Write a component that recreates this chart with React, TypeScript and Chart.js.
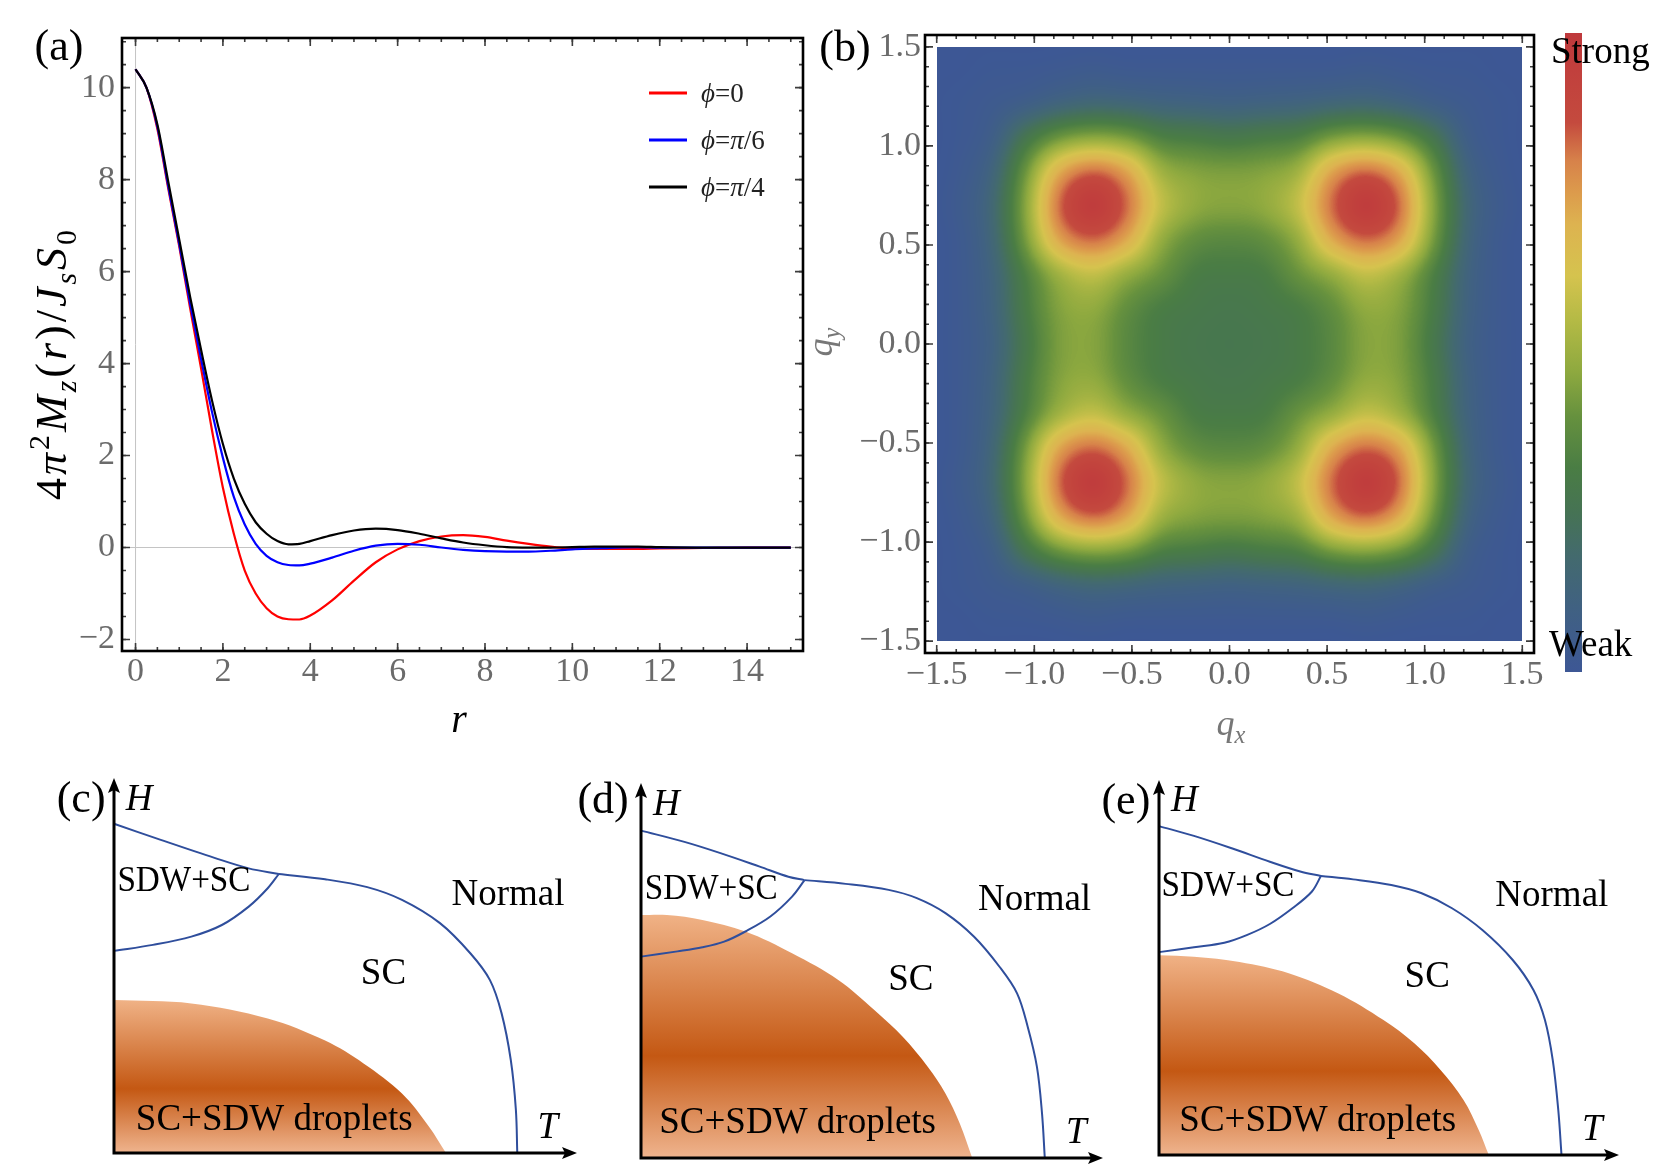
import React, { useEffect, useRef } from 'react';
import { Chart, registerables } from 'chart.js';

Chart.register(...registerables);

const SERIF = '"Liberation Serif", "Times New Roman", Times, serif';
const TICK_GRAY = '#6b6b6b';
const FIG_W = 1675;
const FIG_H = 1175;

// ---------------- Panel (a): 4π²M_z(r)/J_sS_0 against r ----------------
const R_VALUES = [0, 0.25, 0.5, 0.75, 1, 1.25, 1.5, 1.75, 2, 2.25, 2.5, 2.75, 3, 3.25, 3.5, 3.75, 4, 4.5, 5, 5.5, 6, 6.5, 7, 7.5, 8, 8.5, 9, 9.5, 10, 10.5, 11, 11.5, 12, 13, 14, 15];
const M_PHI_0 = [10.4, 10.0, 9.1, 7.8, 6.55, 5.2, 3.9, 2.55, 1.3, 0.3, -0.5, -1.0, -1.32, -1.5, -1.56, -1.565, -1.48, -1.15, -0.72, -0.32, -0.04, 0.14, 0.24, 0.27, 0.23, 0.15, 0.08, 0.02, -0.02, -0.03, -0.03, -0.03, -0.02, -0.01, 0, 0];
const M_PHI_PI6 = [10.4, 10.0, 9.15, 7.85, 6.6, 5.3, 4.1, 2.95, 1.95, 1.1, 0.5, 0.08, -0.18, -0.32, -0.38, -0.39, -0.35, -0.22, -0.07, 0.04, 0.08, 0.06, 0.0, -0.05, -0.08, -0.09, -0.09, -0.07, -0.04, -0.02, 0.0, 0.01, 0.0, 0, 0, 0];
const M_PHI_PI4 = [10.4, 10.0, 9.2, 7.95, 6.7, 5.45, 4.3, 3.2, 2.25, 1.5, 0.95, 0.55, 0.3, 0.14, 0.07, 0.08, 0.14, 0.27, 0.37, 0.41, 0.38, 0.3, 0.2, 0.11, 0.05, 0.01, 0.0, 0.0, 0.01, 0.02, 0.02, 0.02, 0.01, 0, 0, 0];
const SERIES_VALUES = [M_PHI_0, M_PHI_PI6, M_PHI_PI4];
const SERIES_LABELS = ['ϕ=0', 'ϕ=π/6', 'ϕ=π/4'];
const SERIES_COLORS = ['#ff0000', '#0000ff', '#000000'];
const A_X_TICKS = [0, 2, 4, 6, 8, 10, 12, 14];
const A_Y_TICKS = [-2, 0, 2, 4, 6, 8, 10];

// ---------------- Panel (b): intensity map over (q_x, q_y) ----------------
const Q_TICKS = [-1.5, -1.0, -0.5, 0, 0.5, 1.0, 1.5];
const HEAT_STEP = 0.175;
const HEAT_NODES = [-1.575, -1.4, -1.225, -1.05, -0.875, -0.7, -0.525, -0.35, -0.175, 0, 0.175, 0.35, 0.525, 0.7, 0.875, 1.05, 1.225, 1.4, 1.575];
// rows run from q_y = +1.575 (top) down to q_y = -1.575; columns from q_x = -1.575 to +1.575 (percent of maximum)
const HEAT_ROWS = [
  [0, 0, 0, 0, 0, 0, 0, 0, 0, 0, 0, 0, 0, 0, 0, 0, 0, 0, 0],
  [0, 0, 1, 1, 2, 3, 2, 2, 2, 2, 2, 2, 2, 3, 2, 1, 1, 0, 0],
  [0, 1, 3, 6, 11, 14, 13, 11, 10, 9, 10, 11, 13, 14, 11, 6, 3, 1, 0],
  [0, 1, 6, 26, 40, 45, 42, 32, 30, 28, 30, 32, 42, 45, 40, 26, 6, 1, 0],
  [0, 2, 11, 40, 72, 84, 74, 50, 45, 44, 45, 50, 74, 84, 72, 40, 11, 2, 0],
  [0, 3, 14, 45, 84, 100, 84, 58, 48, 46, 48, 58, 84, 100, 84, 45, 14, 3, 0],
  [0, 2, 13, 42, 74, 84, 73, 48, 38, 36, 38, 48, 73, 84, 74, 42, 13, 2, 0],
  [0, 2, 11, 32, 50, 58, 48, 40, 31, 30, 31, 40, 48, 58, 50, 32, 11, 2, 0],
  [0, 2, 10, 30, 45, 48, 38, 31, 29, 28, 29, 31, 38, 48, 45, 30, 10, 2, 0],
  [0, 2, 9, 28, 44, 46, 36, 30, 28, 27, 28, 30, 36, 46, 44, 28, 9, 2, 0],
  [0, 2, 10, 30, 45, 48, 38, 31, 29, 28, 29, 31, 38, 48, 45, 30, 10, 2, 0],
  [0, 2, 11, 32, 50, 58, 48, 40, 31, 30, 31, 40, 48, 58, 50, 32, 11, 2, 0],
  [0, 2, 13, 42, 74, 84, 73, 48, 38, 36, 38, 48, 73, 84, 74, 42, 13, 2, 0],
  [0, 3, 14, 45, 84, 100, 84, 58, 48, 46, 48, 58, 84, 100, 84, 45, 14, 3, 0],
  [0, 2, 11, 40, 72, 84, 74, 50, 45, 44, 45, 50, 74, 84, 72, 40, 11, 2, 0],
  [0, 1, 6, 26, 40, 45, 42, 32, 30, 28, 30, 32, 42, 45, 40, 26, 6, 1, 0],
  [0, 1, 3, 6, 11, 14, 13, 11, 10, 9, 10, 11, 13, 14, 11, 6, 3, 1, 0],
  [0, 0, 1, 1, 2, 3, 2, 2, 2, 2, 2, 2, 2, 3, 2, 1, 1, 0, 0],
  [0, 0, 0, 0, 0, 0, 0, 0, 0, 0, 0, 0, 0, 0, 0, 0, 0, 0, 0],
];
const HEAT_COLOR_STOPS: [number, string][] = [
  [0.0, '#3D5795'], [0.1, '#406182'], [0.18, '#436A6E'], [0.25, '#467354'],
  [0.32, '#4A7D44'], [0.4, '#66913E'], [0.47, '#8EA93F'], [0.55, '#B4BA45'],
  [0.62, '#D5C34E'], [0.7, '#DDB350'], [0.75, '#DC9B4C'], [0.8, '#D7824A'],
  [0.86, '#C44A3E'], [1.0, '#BF393C'],
];

// ---------------- Panels (c)-(e): schematic H-T phase diagrams ----------------
// points are [T, H] with both axes running from 0 to the arrow tip at 1
const C_SDW_TOP: [number, number][] = [[0, 0.878], [0.101, 0.835], [0.217, 0.787], [0.291, 0.759], [0.356, 0.744]];
const C_SC_EDGE: [number, number][] = [[0.356, 0.744], [0.456, 0.73], [0.547, 0.709], [0.622, 0.675], [0.704, 0.613], [0.77, 0.532], [0.812, 0.461], [0.837, 0.373], [0.857, 0.248], [0.868, 0.115], [0.871, 0]];
const C_SDW_BOTTOM: [number, number][] = [[0, 0.539], [0.084, 0.555], [0.167, 0.577], [0.233, 0.608], [0.291, 0.657], [0.332, 0.706], [0.356, 0.744]];
const C_DROPLETS: [number, number][] = [[0, 0.408], [0.167, 0.399], [0.332, 0.359], [0.456, 0.3], [0.539, 0.239], [0.622, 0.159], [0.68, 0.071], [0.717, 0]];

const D_SDW_TOP: [number, number][] = [[0, 0.873], [0.094, 0.843], [0.172, 0.813], [0.257, 0.777], [0.319, 0.75], [0.354, 0.741]];
const D_SC_EDGE: [number, number][] = [[0.354, 0.741], [0.443, 0.731], [0.536, 0.715], [0.597, 0.693], [0.659, 0.653], [0.721, 0.59], [0.776, 0.51], [0.814, 0.439], [0.837, 0.35], [0.857, 0.243], [0.868, 0.119], [0.874, 0]];
const D_SDW_BOTTOM: [number, number][] = [[0, 0.537], [0.079, 0.551], [0.133, 0.562], [0.18, 0.577], [0.226, 0.604], [0.28, 0.644], [0.327, 0.697], [0.354, 0.741]];
const D_DROPLETS: [number, number][] = [[0, 0.648], [0.056, 0.648], [0.133, 0.635], [0.226, 0.604], [0.327, 0.546], [0.427, 0.475], [0.505, 0.395], [0.567, 0.323], [0.621, 0.243], [0.659, 0.172], [0.69, 0.092], [0.717, 0]];

const E_SDW_TOP: [number, number][] = [[0, 0.877], [0.076, 0.851], [0.158, 0.818], [0.241, 0.782], [0.307, 0.756], [0.352, 0.744]];
const E_SC_EDGE: [number, number][] = [[0.352, 0.744], [0.422, 0.735], [0.505, 0.72], [0.571, 0.698], [0.637, 0.658], [0.703, 0.6], [0.769, 0.52], [0.814, 0.44], [0.839, 0.36], [0.856, 0.253], [0.868, 0.12], [0.875, 0]];
const E_SDW_BOTTOM: [number, number][] = [[0, 0.541], [0.076, 0.554], [0.142, 0.566], [0.192, 0.587], [0.241, 0.616], [0.29, 0.658], [0.332, 0.702], [0.352, 0.744]];
const E_DROPLETS: [number, number][] = [[0, 0.533], [0.076, 0.529], [0.175, 0.515], [0.282, 0.485], [0.39, 0.431], [0.488, 0.36], [0.555, 0.298], [0.612, 0.227], [0.662, 0.147], [0.695, 0.067], [0.717, 0]];

type PhaseLabel = { text: string; t: number; h: number; italic?: boolean; size?: number; maxWidth?: number };
const C_LABELS: PhaseLabel[] = [
  { text: 'SDW+SC', t: 0.151, h: 0.723, size: 36, maxWidth: 133 },
  { text: 'Normal', t: 0.851, h: 0.688 },
  { text: 'SC', t: 0.582, h: 0.477 },
  { text: 'SC+SDW droplets', t: 0.346, h: 0.088 },
  { text: 'T', t: 0.937, h: 0.067, italic: true },
  { text: 'H', t: 0.054, h: 0.941, italic: true },
  { text: '(c)', t: -0.071, h: 0.941, size: 44 },
];
const D_LABELS: PhaseLabel[] = [
  { text: 'SDW+SC', t: 0.152, h: 0.715, size: 36, maxWidth: 133 },
  { text: 'Normal', t: 0.852, h: 0.688 },
  { text: 'SC', t: 0.584, h: 0.473 },
  { text: 'SC+SDW droplets', t: 0.339, h: 0.093 },
  { text: 'T', t: 0.942, h: 0.067, italic: true },
  { text: 'H', t: 0.055, h: 0.941, italic: true },
  { text: '(d)', t: -0.082, h: 0.95, size: 44 },
];
const E_LABELS: PhaseLabel[] = [
  { text: 'SDW+SC', t: 0.15, h: 0.715, size: 36, maxWidth: 133 },
  { text: 'Normal', t: 0.854, h: 0.689 },
  { text: 'SC', t: 0.583, h: 0.475 },
  { text: 'SC+SDW droplets', t: 0.345, h: 0.089 },
  { text: 'T', t: 0.942, h: 0.067, italic: true },
  { text: 'H', t: 0.055, h: 0.942, italic: true },
  { text: '(e)', t: -0.072, h: 0.939, size: 44 },
];

const PHASE_LINE = '#2F4E9C';

// ---------------- text helpers ----------------
type Seg = { t: string; italic?: boolean; sub?: boolean; sup?: boolean };

const Y_TITLE_A: Seg[] = [
  { t: '4' }, { t: 'π', italic: true }, { t: '2', sup: true }, { t: 'M', italic: true },
  { t: 'z', italic: true, sub: true }, { t: '(' }, { t: 'r', italic: true }, { t: ')' },
  { t: '/' }, { t: 'J', italic: true }, { t: 's', italic: true, sub: true },
  { t: 'S', italic: true }, { t: '0', sub: true },
];
const QX_TITLE: Seg[] = [{ t: 'q', italic: true }, { t: 'x', italic: true, sub: true }];
const QY_TITLE: Seg[] = [{ t: 'q', italic: true }, { t: 'y', italic: true, sub: true }];

function segFont(seg: Seg, size: number) {
  const s = seg.sub || seg.sup ? size * 0.68 : size;
  return `${seg.italic ? 'italic ' : ''}${s}px ${SERIF}`;
}

function richWidth(ctx: CanvasRenderingContext2D, segs: Seg[], size: number, gap: number) {
  let w = 0;
  segs.forEach((s, i) => {
    ctx.font = segFont(s, size);
    w += ctx.measureText(s.t).width + (i ? gap : 0);
  });
  return w;
}

function drawRich(ctx: CanvasRenderingContext2D, segs: Seg[], x: number, y: number, size: number, gap: number) {
  let cx = x;
  segs.forEach((s, i) => {
    if (i) cx += gap;
    ctx.font = segFont(s, size);
    const dy = s.sub ? size * 0.22 : s.sup ? -size * 0.38 : 0;
    ctx.fillText(s.t, cx, y + dy);
    cx += ctx.measureText(s.t).width;
  });
}

function labelSegs(label: string): Seg[] {
  return label.split('').map((ch) => ({ t: ch, italic: /[\u0370-\u03ff]/.test(ch) }));
}

const minusFmt = (v: number, digits: number) => (v < 0 ? '\u2212' : '') + Math.abs(v).toFixed(digits);

// ---------------- colour map ----------------
function hexRgb(h: string) {
  return [parseInt(h.slice(1, 3), 16), parseInt(h.slice(3, 5), 16), parseInt(h.slice(5, 7), 16)];
}
function buildLut() {
  const lut = new Uint8Array(256 * 3);
  for (let g = 0; g < 256; g++) {
    const v = g / 255;
    let k = 0;
    while (k < HEAT_COLOR_STOPS.length - 2 && v > HEAT_COLOR_STOPS[k + 1][0]) k++;
    const [v0, c0] = HEAT_COLOR_STOPS[k];
    const [v1, c1] = HEAT_COLOR_STOPS[k + 1];
    const f = Math.min(1, Math.max(0, (v - v0) / (v1 - v0)));
    const a = hexRgb(c0), b = hexRgb(c1);
    for (let j = 0; j < 3; j++) lut[g * 3 + j] = Math.round(a[j] + (b[j] - a[j]) * f);
  }
  return lut;
}

// ---------------- shared plugins ----------------
function frameTicksPlugin(xMajor: number[], yMajor: number[], xMinorStep: number, yMinorStep: number) {
  return {
    id: 'frameTicks',
    afterDraw(chart: any) {
      const { ctx, chartArea: a, scales } = chart;
      const xs = scales.x, ys = scales.y;
      ctx.save();
      ctx.strokeStyle = '#3c3c3c';
      ctx.lineWidth = 1.6;
      const tickX = (v: number, len: number) => {
        const p = xs.getPixelForValue(v);
        if (p < a.left + 1 || p > a.right - 1) return;
        ctx.beginPath();
        ctx.moveTo(p, a.bottom); ctx.lineTo(p, a.bottom - len);
        ctx.moveTo(p, a.top); ctx.lineTo(p, a.top + len);
        ctx.stroke();
      };
      const tickY = (v: number, len: number) => {
        const p = ys.getPixelForValue(v);
        if (p < a.top + 1 || p > a.bottom - 1) return;
        ctx.beginPath();
        ctx.moveTo(a.left, p); ctx.lineTo(a.left + len, p);
        ctx.moveTo(a.right, p); ctx.lineTo(a.right - len, p);
        ctx.stroke();
      };
      for (let v = Math.ceil(xs.min / xMinorStep) * xMinorStep; v <= xs.max; v += xMinorStep) tickX(v, 4);
      for (let v = Math.ceil(ys.min / yMinorStep) * yMinorStep; v <= ys.max; v += yMinorStep) tickY(v, 4);
      xMajor.forEach((v) => tickX(v, 8));
      yMajor.forEach((v) => tickY(v, 8));
      ctx.strokeStyle = '#000';
      ctx.lineWidth = 2.6;
      ctx.strokeRect(a.left, a.top, a.right - a.left, a.bottom - a.top);
      ctx.restore();
    },
  };
}

const axisFont = { family: SERIF, size: 34 };

// ---------------- chart builders ----------------
function buildPanelA(canvas: HTMLCanvasElement) {
  const zeroLines = {
    id: 'zeroLines',
    beforeDatasetsDraw(chart: any) {
      const { ctx, chartArea: a, scales } = chart;
      const px = scales.x.getPixelForValue(0);
      const py = scales.y.getPixelForValue(0);
      ctx.save();
      ctx.strokeStyle = '#c4c4c4';
      ctx.lineWidth = 1;
      ctx.beginPath();
      ctx.moveTo(px, a.top); ctx.lineTo(px, a.bottom);
      ctx.moveTo(a.left, py); ctx.lineTo(a.right, py);
      ctx.stroke();
      ctx.restore();
    },
  };
  const legendAndTitles = {
    id: 'legendTitles',
    afterDraw(chart: any) {
      const { ctx, chartArea: a } = chart;
      ctx.save();
      // legend inside the frame
      chart.data.datasets.forEach((ds: any, i: number) => {
        const y = a.top + 55 + i * 47;
        ctx.strokeStyle = ds.borderColor;
        ctx.lineWidth = 3;
        ctx.beginPath();
        ctx.moveTo(a.right - 154, y); ctx.lineTo(a.right - 116, y);
        ctx.stroke();
        ctx.fillStyle = '#222';
        ctx.textAlign = 'left';
        ctx.textBaseline = 'alphabetic';
        drawRich(ctx, labelSegs(ds.label), a.right - 102, y + 9, 27, 0);
      });
      // rotated y title
      ctx.fillStyle = '#000';
      const size = 44;
      const target = 270;
      const natural = richWidth(ctx, Y_TITLE_A, size, 0);
      const gap = Math.max(0, (target - natural) / (Y_TITLE_A.length - 1));
      const total = richWidth(ctx, Y_TITLE_A, size, gap);
      ctx.save();
      ctx.translate(66, 365);
      ctx.rotate(-Math.PI / 2);
      ctx.textAlign = 'left';
      ctx.textBaseline = 'alphabetic';
      drawRich(ctx, Y_TITLE_A, -total / 2, 0, size, gap);
      ctx.restore();
      // x title and panel tag
      ctx.textAlign = 'center';
      ctx.textBaseline = 'middle';
      ctx.font = `italic 40px ${SERIF}`;
      ctx.fillText('r', 459, 721);
      ctx.font = `44px ${SERIF}`;
      ctx.fillText('(a)', 59, 48);
      ctx.restore();
    },
  };
  return new Chart(canvas, {
    type: 'line',
    data: {
      datasets: SERIES_VALUES.map((vals, i) => ({
        label: SERIES_LABELS[i],
        data: R_VALUES.map((r, k) => ({ x: r, y: vals[k] })),
        borderColor: SERIES_COLORS[i],
        borderWidth: 2.2,
        pointRadius: 0,
        fill: false,
        cubicInterpolationMode: 'monotone',
        order: 3 - i,
      })),
    },
    options: {
      animation: false,
      responsive: false,
      devicePixelRatio: 1,
      layout: { padding: { left: 0, right: 77, top: 38, bottom: 0 } },
      plugins: { legend: { display: false }, tooltip: { enabled: false } },
      scales: {
        x: {
          type: 'linear',
          min: -0.31,
          max: 15.28,
          grid: { display: false, drawTicks: false },
          border: { display: false },
          afterBuildTicks: (s: any) => { s.ticks = A_X_TICKS.map((v) => ({ value: v })); },
          afterFit: (s: any) => { s.height = 109; },
          ticks: { autoSkip: false, maxRotation: 0, padding: 1, color: TICK_GRAY, font: axisFont, callback: (v: any) => minusFmt(Number(v), 0) },
        },
        y: {
          type: 'linear',
          min: -2.25,
          max: 11.08,
          grid: { display: false, drawTicks: false },
          border: { display: false },
          afterBuildTicks: (s: any) => { s.ticks = A_Y_TICKS.map((v) => ({ value: v })); },
          afterFit: (s: any) => { s.width = 122; },
          ticks: { autoSkip: false, padding: 7, color: TICK_GRAY, font: axisFont, callback: (v: any) => minusFmt(Number(v), 0) },
        },
      },
    } as any,
    plugins: [zeroLines, frameTicksPlugin(A_X_TICKS, A_Y_TICKS, 0.5, 0.5), legendAndTitles],
  });
}

function buildPanelB(canvas: HTMLCanvasElement) {
  const heatPlugin = {
    id: 'heatGrid',
    beforeDatasetsDraw(chart: any) {
      const { ctx, scales } = chart;
      const xs = scales.x, ys = scales.y;
      const n = HEAT_NODES.length;
      const half = HEAT_STEP / 2;
      const left = Math.round(xs.getPixelForValue(-1.5));
      const right = Math.round(xs.getPixelForValue(1.5));
      const top = Math.round(ys.getPixelForValue(1.5));
      const bottom = Math.round(ys.getPixelForValue(-1.5));
      const w = right - left, h = bottom - top;
      const src = document.createElement('canvas');
      src.width = n; src.height = n;
      const sctx = src.getContext('2d')!;
      const img = sctx.createImageData(n, n);
      HEAT_ROWS.forEach((row, r) => row.forEach((v, c) => {
        const g = Math.round((v / 100) * 255);
        const k = (r * n + c) * 4;
        img.data[k] = g; img.data[k + 1] = g; img.data[k + 2] = g; img.data[k + 3] = 255;
      }));
      sctx.putImageData(img, 0, 0);
      const dst = document.createElement('canvas');
      dst.width = w; dst.height = h;
      const dctx = dst.getContext('2d')!;
      dctx.imageSmoothingEnabled = true;
      (dctx as any).imageSmoothingQuality = 'high';
      const gx0 = xs.getPixelForValue(HEAT_NODES[0] - half) - left;
      const gx1 = xs.getPixelForValue(HEAT_NODES[n - 1] + half) - left;
      const gy0 = ys.getPixelForValue(HEAT_NODES[n - 1] + half) - top;
      const gy1 = ys.getPixelForValue(HEAT_NODES[0] - half) - top;
      dctx.drawImage(src, 0, 0, n, n, gx0, gy0, gx1 - gx0, gy1 - gy0);
      const out = dctx.getImageData(0, 0, w, h);
      const lut = buildLut();
      for (let k = 0; k < out.data.length; k += 4) {
        const g = out.data[k];
        out.data[k] = lut[g * 3];
        out.data[k + 1] = lut[g * 3 + 1];
        out.data[k + 2] = lut[g * 3 + 2];
        out.data[k + 3] = 255;
      }
      dctx.putImageData(out, 0, 0);
      ctx.drawImage(dst, left, top);
    },
  };
  const decorPlugin = {
    id: 'heatDecor',
    afterDraw(chart: any) {
      const { ctx, chartArea: a } = chart;
      ctx.save();
      // colour bar
      const bx = a.right + 31, bw = 17;
      const bt = a.top - 2, bb = a.bottom + 19;
      const grad = ctx.createLinearGradient(0, bb, 0, bt);
      HEAT_COLOR_STOPS.forEach(([v, c]) => grad.addColorStop(v, c));
      ctx.fillStyle = grad;
      ctx.fillRect(bx, bt, bw, bb - bt);
      ctx.fillStyle = '#000';
      ctx.font = `37px ${SERIF}`;
      ctx.textAlign = 'left';
      ctx.textBaseline = 'middle';
      ctx.fillText('Strong', a.right + 17, a.top + 18);
      ctx.fillText('Weak', a.right + 15, a.bottom - 7);
      // axis titles
      ctx.fillStyle = '#777';
      ctx.textBaseline = 'alphabetic';
      const qxw = richWidth(ctx, QX_TITLE, 36, 0);
      drawRich(ctx, QX_TITLE, 451 - qxw / 2, 735, 36, 0);
      const qyw = richWidth(ctx, QY_TITLE, 36, 0);
      ctx.save();
      ctx.translate(52, 342);
      ctx.rotate(-Math.PI / 2);
      drawRich(ctx, QY_TITLE, -qyw / 2, 0, 36, 0);
      ctx.restore();
      // panel tag
      ctx.fillStyle = '#000';
      ctx.font = `44px ${SERIF}`;
      ctx.textAlign = 'center';
      ctx.textBaseline = 'middle';
      ctx.fillText('(b)', 65, 49);
      ctx.restore();
    },
  };
  const qScale = (afterFit: (s: any) => void, padding: number) => ({
    type: 'linear',
    min: -1.56,
    max: 1.56,
    grid: { display: false, drawTicks: false },
    border: { display: false },
    afterBuildTicks: (s: any) => { s.ticks = Q_TICKS.map((v) => ({ value: v })); },
    afterFit,
    ticks: { autoSkip: false, maxRotation: 0, padding, color: TICK_GRAY, font: axisFont, callback: (v: any) => minusFmt(Number(v), 1) },
  });
  return new Chart(canvas, {
    type: 'scatter',
    data: { datasets: [{ data: [] }] },
    options: {
      animation: false,
      responsive: false,
      devicePixelRatio: 1,
      layout: { padding: { left: 0, right: 141, top: 35, bottom: 0 } },
      plugins: { legend: { display: false }, tooltip: { enabled: false } },
      scales: {
        x: qScale((s) => { s.height = 107; }, 2),
        y: qScale((s) => { s.width = 145; }, 4),
      },
    } as any,
    plugins: [heatPlugin, frameTicksPlugin(Q_TICKS, Q_TICKS, 0.1, 0.1), decorPlugin],
  });
}

type PhasePanel = {
  box: { left: number; top: number; width: number; height: number };
  area: { left: number; top: number; right: number; bottom: number };
  sdwTop: [number, number][];
  scEdge: [number, number][];
  sdwBottom: [number, number][];
  droplets: [number, number][];
  labels: PhaseLabel[];
};

const PHASE_PANELS: PhasePanel[] = [
  { box: { left: 0, top: 740, width: 600, height: 435 }, area: { left: 114, top: 778, right: 577, bottom: 1153 }, sdwTop: C_SDW_TOP, scEdge: C_SC_EDGE, sdwBottom: C_SDW_BOTTOM, droplets: C_DROPLETS, labels: C_LABELS },
  { box: { left: 560, top: 740, width: 560, height: 435 }, area: { left: 641, top: 783, right: 1103, bottom: 1158 }, sdwTop: D_SDW_TOP, scEdge: D_SC_EDGE, sdwBottom: D_SDW_BOTTOM, droplets: D_DROPLETS, labels: D_LABELS },
  { box: { left: 1080, top: 740, width: 595, height: 435 }, area: { left: 1159, top: 780, right: 1619, bottom: 1155 }, sdwTop: E_SDW_TOP, scEdge: E_SC_EDGE, sdwBottom: E_SDW_BOTTOM, droplets: E_DROPLETS, labels: E_LABELS },
];

function buildPhase(canvas: HTMLCanvasElement, panel: PhasePanel) {
  const toXY = (pts: [number, number][]) => pts.map(([t, h]) => ({ x: t, y: h }));
  const curve = (pts: [number, number][]) => ({
    data: toXY(pts),
    borderColor: PHASE_LINE,
    borderWidth: 2,
    pointRadius: 0,
    fill: false,
    tension: 0.35,
    clip: false,
    order: 1,
  });
  const topH = Math.max(...panel.droplets.map((p) => p[1]));
  const dropletFill = (c: any) => {
    const chart = c.chart;
    if (!chart.chartArea) return 'rgba(0,0,0,0)';
    const y0 = chart.scales.y.getPixelForValue(topH);
    const y1 = chart.scales.y.getPixelForValue(0);
    const g = chart.ctx.createLinearGradient(0, y0, 0, y1);
    g.addColorStop(0, '#F0B286');
    g.addColorStop(0.58, '#C45813');
    g.addColorStop(1, '#EFB48E');
    return g;
  };
  const axesPlugin = {
    id: 'phaseAxes',
    afterDatasetsDraw(chart: any) {
      const { ctx, scales } = chart;
      const x0 = scales.x.getPixelForValue(0), y0 = scales.y.getPixelForValue(0);
      const xt = scales.x.getPixelForValue(1), yt = scales.y.getPixelForValue(1);
      ctx.save();
      ctx.strokeStyle = '#000';
      ctx.fillStyle = '#000';
      ctx.lineWidth = 3;
      ctx.beginPath();
      ctx.moveTo(x0, y0 + 1.5); ctx.lineTo(x0, yt + 10);
      ctx.moveTo(x0 - 1.5, y0); ctx.lineTo(xt - 10, y0);
      ctx.stroke();
      ctx.beginPath();
      ctx.moveTo(x0, yt); ctx.lineTo(x0 - 6, yt + 15); ctx.lineTo(x0, yt + 12); ctx.lineTo(x0 + 6, yt + 15);
      ctx.closePath(); ctx.fill();
      ctx.beginPath();
      ctx.moveTo(xt, y0); ctx.lineTo(xt - 15, y0 - 6); ctx.lineTo(xt - 12, y0); ctx.lineTo(xt - 15, y0 + 6);
      ctx.closePath(); ctx.fill();
      ctx.restore();
    },
  };
  const labelPlugin = {
    id: 'phaseLabels',
    afterDraw(chart: any) {
      const { ctx, scales } = chart;
      ctx.save();
      ctx.fillStyle = '#000';
      ctx.textAlign = 'center';
      ctx.textBaseline = 'middle';
      panel.labels.forEach((l) => {
        ctx.font = `${l.italic ? 'italic ' : ''}${l.size || 37}px ${SERIF}`;
        const px = scales.x.getPixelForValue(l.t);
        const py = scales.y.getPixelForValue(l.h);
        if (l.maxWidth) ctx.fillText(l.text, px, py, l.maxWidth);
        else ctx.fillText(l.text, px, py);
      });
      ctx.restore();
    },
  };
  const { box, area } = panel;
  return new Chart(canvas, {
    type: 'line',
    data: {
      datasets: [
        curve(panel.sdwTop),
        curve(panel.scEdge),
        curve(panel.sdwBottom),
        {
          data: toXY(panel.droplets),
          borderColor: 'rgba(0,0,0,0)',
          borderWidth: 0,
          pointRadius: 0,
          fill: 'origin',
          backgroundColor: dropletFill,
          tension: 0.35,
          order: 2,
        },
      ],
    },
    options: {
      animation: false,
      responsive: false,
      devicePixelRatio: 1,
      layout: {
        padding: {
          left: area.left - box.left,
          right: box.left + box.width - area.right,
          top: area.top - box.top,
          bottom: box.top + box.height - area.bottom,
        },
      },
      plugins: { legend: { display: false }, tooltip: { enabled: false } },
      scales: {
        x: { type: 'linear', min: 0, max: 1, display: false },
        y: { type: 'linear', min: 0, max: 1, display: false },
      },
    } as any,
    plugins: [axesPlugin, labelPlugin],
  });
}

const BOX_A = { left: 0, top: 0, width: 880, height: 760 };
const BOX_B = { left: 780, top: 0, width: 895, height: 760 };

function boxStyle(b: { left: number; top: number; width: number; height: number }): React.CSSProperties {
  return { position: 'absolute', left: b.left, top: b.top, width: b.width, height: b.height };
}

export default function App() {
  const aRef = useRef<HTMLCanvasElement>(null);
  const bRef = useRef<HTMLCanvasElement>(null);
  const cRef = useRef<HTMLCanvasElement>(null);
  const dRef = useRef<HTMLCanvasElement>(null);
  const eRef = useRef<HTMLCanvasElement>(null);

  useEffect(() => {
    const charts: Chart[] = [];
    if (aRef.current) charts.push(buildPanelA(aRef.current));
    if (bRef.current) charts.push(buildPanelB(bRef.current));
    [cRef, dRef, eRef].forEach((r, i) => {
      if (r.current) charts.push(buildPhase(r.current, PHASE_PANELS[i]));
    });
    return () => charts.forEach((c) => c.destroy());
  }, []);

  const phaseRefs = [cRef, dRef, eRef];
  return (
    <div style={{ position: 'absolute', left: 0, top: 0, width: FIG_W, height: FIG_H, background: '#fff', overflow: 'hidden' }}>
      <canvas ref={aRef} width={BOX_A.width} height={BOX_A.height} style={boxStyle(BOX_A)} />
      <canvas ref={bRef} width={BOX_B.width} height={BOX_B.height} style={boxStyle(BOX_B)} />
      {PHASE_PANELS.map((p, i) => (
        <canvas key={i} ref={phaseRefs[i]} width={p.box.width} height={p.box.height} style={boxStyle(p.box)} />
      ))}
    </div>
  );
}
